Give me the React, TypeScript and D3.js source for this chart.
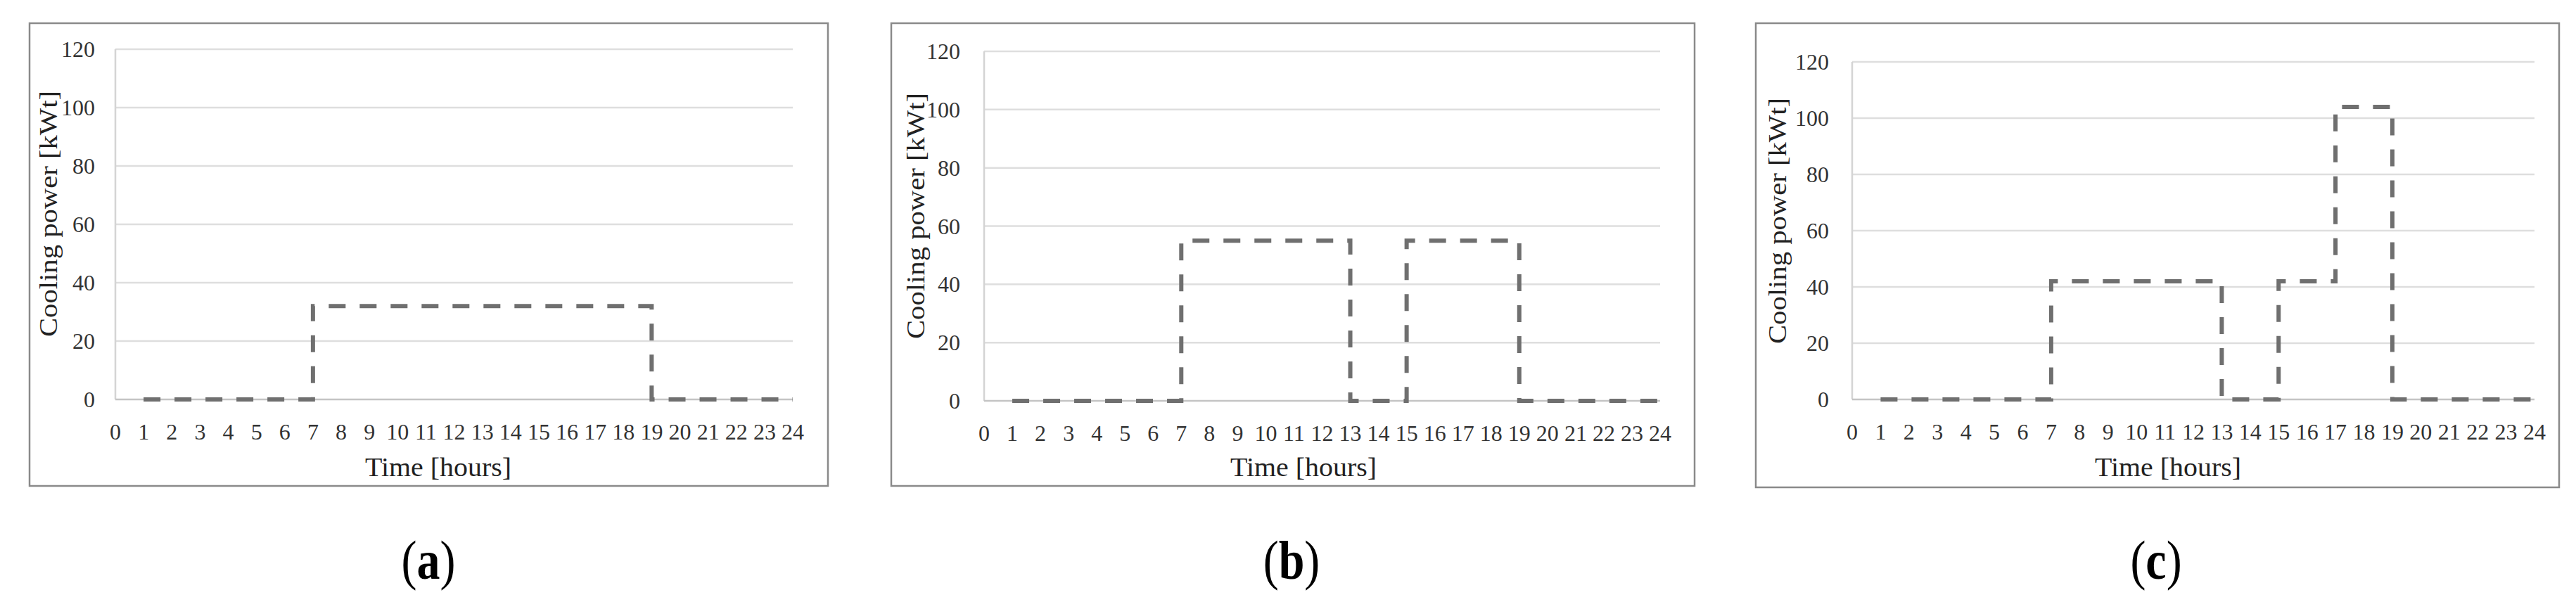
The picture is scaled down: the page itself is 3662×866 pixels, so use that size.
import React from "react";
import * as d3 from "d3";

// ---- data ----
const hours = d3.range(1, 25); // 1..24, step-after values per hour
const xTickLabels = d3.range(0, 25).map(String);
const yTickValues = [0, 20, 40, 60, 80, 100, 120];
const seriesA = [0, 0, 0, 0, 0, 0, 32, 32, 32, 32, 32, 32, 32, 32, 32, 32, 32, 32, 0, 0, 0, 0, 0, 0];
const seriesB = [0, 0, 0, 0, 0, 0, 55, 55, 55, 55, 55, 55, 0, 0, 55, 55, 55, 55, 0, 0, 0, 0, 0, 0];
const seriesC = [0, 0, 0, 0, 0, 0, 42, 42, 42, 42, 42, 42, 0, 0, 42, 42, 104, 104, 0, 0, 0, 0, 0, 0];
const captions = ["a", "b", "c"];
const yTitle = "Cooling power [kWt]";
const xTitle = "Time [hours]";

// ---- layout (positions only) ----
const layouts = [
  { border: [42, 33, 1177, 691], plot: [164, 1127, 70, 568], yT: [81, 304], yTickRight: 135, xTickBase: 625, xT: [623, 677], cap: [609, 823] },
  { border: [1267, 33, 2409, 691], plot: [1399, 2360, 73, 570], yT: [1314, 307], yTickRight: 1365, xTickBase: 627, xT: [1853, 677], cap: [1836, 823] },
  { border: [2496, 33, 3638, 693], plot: [2633, 3603, 88, 568], yT: [2539, 314], yTickRight: 2600, xTickBase: 625, xT: [3082, 677], cap: [3065, 823] },
];
const seriesList = [seriesA, seriesB, seriesC];

const FONT = "'Liberation Serif', 'Times New Roman', serif";

function Panel({ idx }: { idx: number }) {
  const L = layouts[idx];
  const values = seriesList[idx];
  const [left, right, top, bottom] = L.plot;
  const x = d3.scaleLinear().domain([0, 24]).range([left, right]);
  const y = d3.scaleLinear().domain([0, 120]).range([bottom, top]);
  const line = d3
    .line<number>()
    .x((_, i) => x(hours[i]))
    .y((v) => y(v))
    .curve(d3.curveStepAfter);
  const [bx0, by0, bx1, by1] = L.border;
  return (
    <g>
      <rect x={bx0} y={by0} width={bx1 - bx0} height={by1 - by0} fill="#fff" stroke="#8a8a8a" strokeWidth={2.5} />
      {yTickValues.filter((v) => v > 0).map((v) => (
        <line key={v} x1={left} x2={right} y1={y(v)} y2={y(v)} stroke="#dedede" strokeWidth={2.5} />
      ))}
      <line x1={left} x2={left} y1={y(120)} y2={y(0)} stroke="#d4d4d4" strokeWidth={2.5} />
      <line x1={left} x2={right} y1={y(0)} y2={y(0)} stroke="#c4c4c4" strokeWidth={2.5} />
      {yTickValues.map((v) => (
        <text key={v} x={L.yTickRight} y={y(v) + 11} textAnchor="end" fontSize={32} fill="#333" fontFamily={FONT}>
          {v}
        </text>
      ))}
      {xTickLabels.map((t, i) => (
        <text key={t} x={x(i)} y={L.xTickBase} textAnchor="middle" fontSize={32} fill="#333" fontFamily={FONT}>
          {t}
        </text>
      ))}
      <path d={line(values) || ""} fill="none" stroke="#6f6f6f" strokeWidth={6} strokeDasharray="24 20" />
      <text
        transform={`translate(${L.yT[0]},${L.yT[1]}) rotate(-90)`}
        textAnchor="middle"
        fontSize={35}
        textLength={350}
        lengthAdjust="spacingAndGlyphs"
        fill="#222"
        fontFamily={FONT}
      >
        {yTitle}
      </text>
      <text
        x={L.xT[0]}
        y={L.xT[1]}
        textAnchor="middle"
        fontSize={37}
        textLength={208}
        lengthAdjust="spacingAndGlyphs"
        fill="#222"
        fontFamily={FONT}
      >
        {xTitle}
      </text>
      <g transform={`translate(${L.cap[0]},${L.cap[1]}) scale(1,1.2)`}>
        <text x={0} y={0} textAnchor="middle" fontSize={66} fill="#000" fontFamily={FONT}>
          (<tspan fontWeight="bold">{captions[idx]}</tspan>)
        </text>
      </g>
    </g>
  );
}

export default function App() {
  return (
    <svg
      width={3662}
      height={866}
      viewBox="0 0 3662 866"
      style={{ position: "absolute", left: 0, top: 0, display: "block", background: "#fff" }}
    >
      <rect x={0} y={0} width={3662} height={866} fill="#fff" />
      {[0, 1, 2].map((i) => (
        <Panel key={i} idx={i} />
      ))}
    </svg>
  );
}
